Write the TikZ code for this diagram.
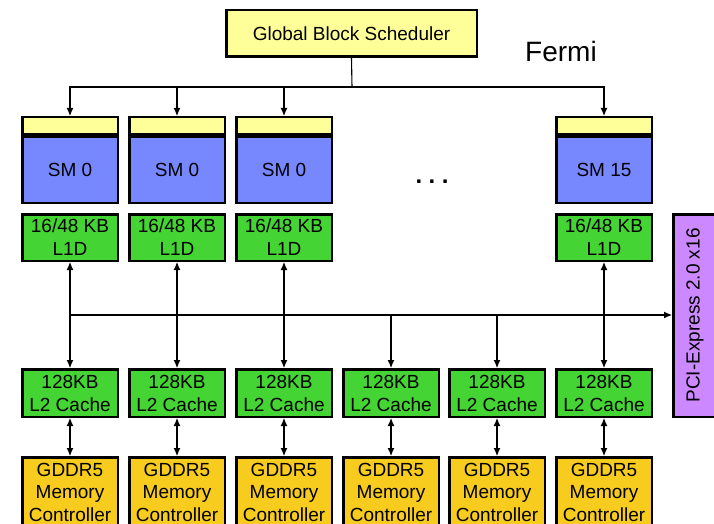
\documentclass[tikz,border=0pt]{standalone}
\usepackage{fontspec}
\setmainfont{Liberation Sans}
\usepackage{tikz}
\usetikzlibrary{arrows.meta}

\definecolor{capyellow}{RGB}{255,255,153}
\definecolor{smblue}{RGB}{119,136,255}
\definecolor{cachegreen}{RGB}{68,212,51}
\definecolor{memgold}{RGB}{248,204,30}
\definecolor{pcipurple}{RGB}{204,136,255}

\tikzset{
	box/.style={draw, line width=2.5pt, inner sep=0pt, align=center, minimum width=95.5pt, font=\fontsize{19}{23}\selectfont},
	smcap/.style={box, fill=capyellow, minimum height=16.5pt},
	smcore/.style={box, fill=smblue, minimum height=66.5pt},
	lone/.style={box, fill=cachegreen, minimum height=46.5pt},
	ltwo/.style={box, fill=cachegreen, minimum height=47.5pt},
	mem/.style={box, fill=memgold, minimum height=69.5pt, font=\fontsize{19}{22.5}\selectfont},
	link/.style={line width=1.1pt, >={Latex[length=8pt,width=7pt]}}
}

\begin{document}
\begin{tikzpicture}[x=1pt, y=-1pt]
	\useasboundingbox (0,0) rectangle (714,524);

	\node[box, fill=capyellow, minimum width=250.5pt, minimum height=46.5pt, font=\fontsize{19}{22}\selectfont] at (351.5,33.5) (sched) {Global Block Scheduler};
	\node[font=\fontsize{28}{32}\selectfont] at (561,51) (fermi) {Fermi};

	% streaming multiprocessors
	\node[smcap] at (70,125.5) (cap1) {};
	\node[smcap] at (177,125.5) (cap2) {};
	\node[smcap] at (284,125.5) (cap3) {};
	\node[smcap] at (604,125.5) (cap6) {};

	\node[smcore] at (70,169.5) (sm1) {SM 0};
	\node[smcore] at (177,169.5) (sm2) {SM 0};
	\node[smcore] at (284,169.5) (sm3) {SM 0};
	\node[smcore] at (604,169.5) (sm6) {SM 15};

	\node[font=\bfseries\fontsize{24}{28}\selectfont] at (432,182) (dots) {.\hspace{6.5pt}.\hspace{6.5pt}.};

	\node[lone] at (70,237.5) (lone1) {16/48 KB\\L1D};
	\node[lone] at (177,237.5) (lone2) {16/48 KB\\L1D};
	\node[lone] at (284,237.5) (lone3) {16/48 KB\\L1D};
	\node[lone] at (604,237.5) (lone6) {16/48 KB\\L1D};

	% L2 slices and memory controllers
	\node[ltwo] at (70,393) (ltwo1) {128KB\\L2 Cache};
	\node[ltwo] at (177,393) (ltwo2) {128KB\\L2 Cache};
	\node[ltwo] at (284,393) (ltwo3) {128KB\\L2 Cache};
	\node[ltwo] at (391,393) (ltwo4) {128KB\\L2 Cache};
	\node[ltwo] at (497,393) (ltwo5) {128KB\\L2 Cache};
	\node[ltwo] at (604,393) (ltwo6) {128KB\\L2 Cache};

	\node[mem] at (70,492) (mem1) {GDDR5\\Memory\\Controller};
	\node[mem] at (177,492) (mem2) {GDDR5\\Memory\\Controller};
	\node[mem] at (284,492) (mem3) {GDDR5\\Memory\\Controller};
	\node[mem] at (391,492) (mem4) {GDDR5\\Memory\\Controller};
	\node[mem] at (497,492) (mem5) {GDDR5\\Memory\\Controller};
	\node[mem] at (604,492) (mem6) {GDDR5\\Memory\\Controller};

	\node[box, fill=pcipurple, minimum width=202.5pt, minimum height=43.5pt, rotate=90] at (695,315.5) (pci) {PCI-Express 2.0 x16};

	\coordinate (split) at (352,87);
	\coordinate (bus) at (70,315);

	\draw[link] (sched.south) -- (split);
	\draw[link,->] (split) -| (cap1.north);
	\draw[link,->] (split) -| (cap2.north);
	\draw[link,->] (split) -| (cap3.north);
	\draw[link,->] (split) -| (cap6.north);

	\draw[link,->] (bus) -- (bus -| pci.north);

	\draw[link,<->] (lone1.south) -- (ltwo1.north);
	\draw[link,<->] (lone2.south) -- (ltwo2.north);
	\draw[link,<->] (lone3.south) -- (ltwo3.north);
	\draw[link,<->] (lone6.south) -- (ltwo6.north);
	\draw[link,->] (bus -| ltwo4.north) -- (ltwo4.north);
	\draw[link,->] (bus -| ltwo5.north) -- (ltwo5.north);

	\draw[link,<->] (ltwo1.south) -- (mem1.north);
	\draw[link,<->] (ltwo2.south) -- (mem2.north);
	\draw[link,<->] (ltwo3.south) -- (mem3.north);
	\draw[link,<->] (ltwo4.south) -- (mem4.north);
	\draw[link,<->] (ltwo5.south) -- (mem5.north);
	\draw[link,<->] (ltwo6.south) -- (mem6.north);
\end{tikzpicture}
\end{document}
